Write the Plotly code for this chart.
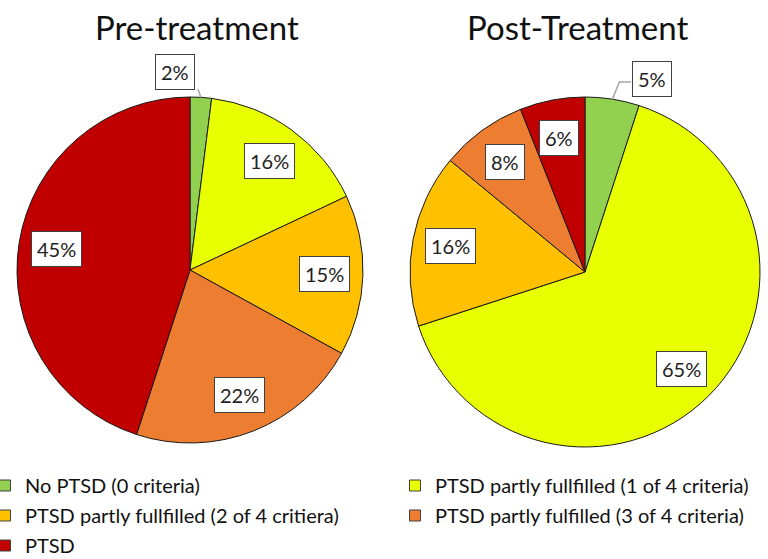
import math
import plotly.graph_objects as go

categories = [
    "No PTSD (0 criteria)",
    "PTSD partly fullfilled (1 of 4 criteria)",
    "PTSD partly fullfilled (2 of 4 critiera)",
    "PTSD partly fulfilled (3 of 4 criteria)",
    "PTSD",
]
pre_values = [2, 16, 15, 22, 45]
post_values = [5, 65, 16, 8, 6]
colors = ["#92D050", "#E8FF00", "#FFC000", "#ED7D31", "#C00000"]
titles = ["Pre-treatment", "Post-Treatment"]

W, H = 768, 559
FONT = "Lato"
pies = [
    dict(vals=pre_values, cx=190, cy=270, r=173, title_x=197, out=(-15, -198)),
    dict(vals=post_values, cx=585, cy=272, r=175, title_x=577, out=(67, -193)),
]

fig = go.Figure()
annotations = []
shapes = []

def px(x):
    return x / W

def py(y):
    return 1 - y / H

for i, p in enumerate(pies):
    vals, cx, cy, R = p["vals"], p["cx"], p["cy"], p["r"]
    fig.add_trace(go.Pie(
        labels=categories,
        values=vals,
        sort=False,
        direction="clockwise",
        rotation=0,
        marker=dict(colors=colors, line=dict(color="#1a1a1a", width=1)),
        textinfo="none",
        hoverinfo="label+percent",
        domain=dict(x=[px(cx - R), px(cx + R)], y=[py(cy + R), py(cy - R)]),
        showlegend=False,
    ))
    annotations.append(dict(
        x=px(p["title_x"]), y=py(27), xref="paper", yref="paper",
        text=titles[i], showarrow=False, xanchor="center", yanchor="middle",
        font=dict(family=FONT, size=33, color="#111111"),
    ))
    total = sum(vals)
    cum = 0
    for v in vals:
        mid = (cum + v / 2) / total * 2 * math.pi
        cum += v
        pct = f"{round(v / total * 100)}%"
        if v / total <= 0.05:
            ox, oy = p["out"]
            lx, ly = cx + ox, cy + oy
            ex, ey = cx + R * math.sin(mid), cy - R * math.cos(mid)
            if ox > 0:
                path = f"M{px(ex)},{py(ey)} L{px(ex + 7)},{py(ly + 3)} L{px(lx - 21)},{py(ly + 3)}"
            else:
                path = f"M{px(ex)},{py(ey)} L{px(ex - 3)},{py(ly + 17)}"
            shapes.append(dict(type="path", path=path, xref="paper", yref="paper",
                               line=dict(color="#A6A6A6", width=1.5)))
        else:
            rr = 0.78 * R
            lx, ly = cx + rr * math.sin(mid), cy - rr * math.cos(mid)
        annotations.append(dict(
            x=px(lx), y=py(ly), xref="paper", yref="paper",
            text=pct, showarrow=False, xanchor="center", yanchor="middle",
            font=dict(family=FONT, size=20, color="#222222"),
            bgcolor="white", bordercolor="#404040", borderwidth=1, borderpad=5,
        ))

# legend entries (two columns, as in the reference)
legend_of = ["legend", "legend2", "legend", "legend2", "legend"]
for name, col, lg in zip(categories, colors, legend_of):
    fig.add_trace(go.Scatter(
        x=[None], y=[None], mode="markers", name=name, legend=lg,
        legendgroup=name,
        marker=dict(symbol="square", size=11, color=col, line=dict(color="#404040", width=1)),
        hoverinfo="skip",
    ))

legend_style = dict(
    orientation="v", xanchor="left", yanchor="top",
    font=dict(family=FONT, size=20, color="#111111"),
    itemwidth=30, tracegroupgap=1, traceorder="grouped",
    bgcolor="rgba(0,0,0,0)",
)

fig.update_layout(
    width=W, height=H,
    margin=dict(l=0, r=0, t=0, b=0, autoexpand=False),
    paper_bgcolor="white",
    plot_bgcolor="white",
    font=dict(family=FONT),
    xaxis=dict(visible=False),
    yaxis=dict(visible=False),
    annotations=annotations,
    shapes=shapes,
    legend=dict(x=px(-15), y=py(466), **legend_style),
    legend2=dict(x=px(395), y=py(466), **legend_style),
)

fig.write_html(
    "out.html",
    config={"displayModeBar": False},
    post_script="document.body.style.margin='0';document.body.style.overflow='hidden';",
)
